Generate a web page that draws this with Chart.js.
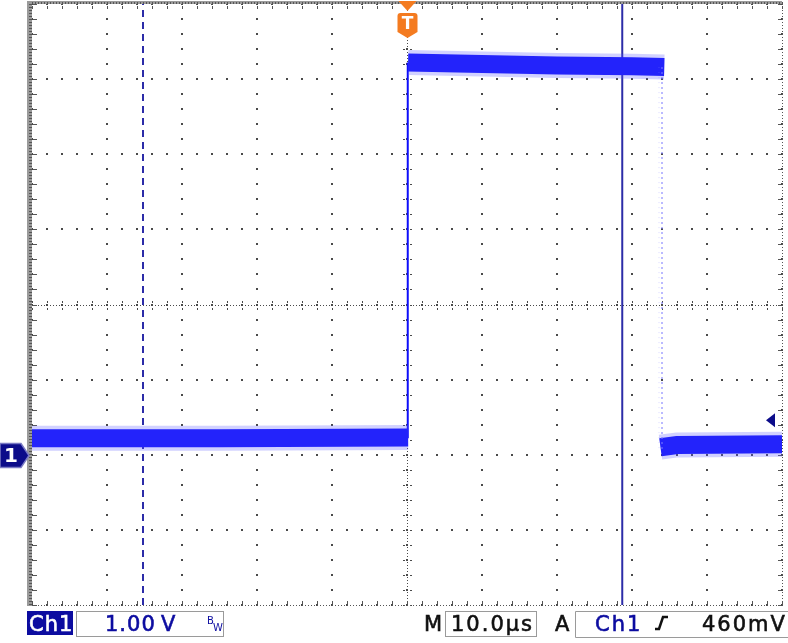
<!DOCTYPE html>
<html>
<head>
<meta charset="utf-8">
<script src="https://cdn.jsdelivr.net/npm/chart.js@4.4.0/dist/chart.umd.min.js"></script>
<style>
  html, body { margin: 0; padding: 0; background: #fff; }
  #wrap { width: 788px; height: 643px; position: relative; }
</style>
</head>
<body>
<div id="wrap"><canvas id="scope"></canvas></div>
<script>
// Scope screen: 10 us/div, 1 V/div, trigger at centre, ch1 ground 2 div below centre
const timeRange = [-50, 50];
const voltRange = [-2, 6];
const timeDivs = [-50, -40, -30, -20, -10, 0, 10, 20, 30, 40, 50];
const voltDivs = [-2, -1, 0, 1, 2, 3, 4, 5, 6];

// Ch1 trace, split at the edges
const preTime = [-50, -25, 0.15];
const preVolts = [0.22, 0.22, 0.23];
const highTime = [0.15, 10, 20, 30, 34.3];
const highVolts = [5.22, 5.2, 5.18, 5.17, 5.16];
const postTime = [33.8, 36, 50];
const postVolts = [0.1, 0.13, 0.14];
const riseTime = [0.1, 0.1];
const riseVolts = [0.22, 5.22];
const fallTime = [34.0, 34.0];
const fallVolts = [5.16, 0.06];

// Cursors and trigger
const cursorA = -35.2;
const cursorB = 28.7;
const cursorAVolts = 0.21;
const cursorBVolts = 5.13;
const triggerTime = 0;
const triggerLevel = 0.46;

const pts = (ts, vs) => ts.map((t, i) => ({ x: t, y: vs[i] }));

function line(data, color, width, extra) {
    return Object.assign({
        data: data,
        borderColor: color,
        borderWidth: width,
        pointRadius: 0,
        tension: 0,
        fill: false,
        borderCapStyle: 'butt'
    }, extra || {});
}

const fuzz = 'rgba(90, 90, 255, 0.28)';
const core = 'rgb(14, 14, 250)';
const navy = '#0c0c8a';

// Dotted graticule, rulers on the frame
const graticule = {
    id: 'graticule',
    beforeDatasetsDraw(chart) {
        const { ctx, chartArea: a, scales: { x, y } } = chart;
        ctx.save();
        ctx.fillStyle = '#4a4a4a';
        // dotted division lines
        timeDivs.forEach(t => {
            const px = Math.round(x.getPixelForValue(t));
            for (let k = 0; k <= 40; k++) {
                const py = Math.round(y.getPixelForValue(voltRange[0] + k * 0.2));
                ctx.fillRect(px - 1, py - 1, 2, 2);
            }
        });
        voltDivs.forEach(v => {
            const py = Math.round(y.getPixelForValue(v));
            for (let k = 0; k <= 50; k++) {
                const px = Math.round(x.getPixelForValue(timeRange[0] + k * 2));
                ctx.fillRect(px - 1, py - 1, 2, 2);
            }
        });
        // centre axes: dense dots plus small ticks
        const cx = Math.round(x.getPixelForValue(0));
        const cy = Math.round(y.getPixelForValue(2));
        for (let px = a.left; px <= a.right; px += 3) ctx.fillRect(px, cy, 1, 1);
        for (let py = a.top; py <= a.bottom; py += 3) ctx.fillRect(cx, py, 1, 1);
        for (let k = 0; k <= 50; k++) {
            const px = Math.round(x.getPixelForValue(timeRange[0] + k * 2));
            ctx.fillRect(px, cy - 4, 1, 2);
            ctx.fillRect(px, cy + 3, 1, 2);
        }
        for (let k = 0; k <= 40; k++) {
            const py = Math.round(y.getPixelForValue(voltRange[0] + k * 0.2));
            ctx.fillRect(cx - 4, py, 2, 1);
            ctx.fillRect(cx + 3, py, 2, 1);
        }
        // frame rulers
        ctx.fillStyle = '#9a9a9a';
        ctx.fillRect(a.left - 5, a.top - 3, 5, a.bottom - a.top + 4);
        ctx.fillRect(a.left - 5, a.top - 3, a.right - a.left + 5, 3);
        ctx.fillStyle = '#555';
        for (let py = a.top; py <= a.bottom; py += 3) ctx.fillRect(a.left - 3, py, 3, 1);
        for (let px = a.left; px <= a.right; px += 3) ctx.fillRect(px, a.top - 2, 1, 2);
        for (let px = a.left; px <= a.right; px += 3) ctx.fillRect(px, a.bottom, 1, 1);
        for (let py = a.top; py <= a.bottom; py += 3) ctx.fillRect(a.right, py, 1, 1);
        for (let k = 0; k <= 50; k++) {
            const px = Math.round(x.getPixelForValue(timeRange[0] + k * 2));
            ctx.fillRect(px, a.top + 2, 1, 3);
            ctx.fillRect(px, a.bottom - 4, 1, 3);
        }
        for (let k = 0; k <= 40; k++) {
            const py = Math.round(y.getPixelForValue(voltRange[0] + k * 0.2));
            ctx.fillRect(a.left + 1, py, 4, 1);
            ctx.fillRect(a.right - 4, py, 3, 1);
        }
        ctx.restore();
    }
};

// text a bit heavier and wider, like the scope's own font
function scopeText(ctx, s, x, y, color) {
    ctx.fillStyle = color;
    ctx.strokeStyle = color;
    ctx.lineWidth = 0.6;
    ctx.fillText(s, x, y);
    ctx.strokeText(s, x, y);
}

// Markers and readout bar
const readout = {
    id: 'readout',
    afterDraw(chart) {
        const { ctx, scales: { x, y } } = chart;
        ctx.save();

        // trigger position marker
        const tx = Math.round(x.getPixelForValue(triggerTime)) + 0.5;
        ctx.fillStyle = '#f47b20';
        ctx.beginPath();
        ctx.moveTo(tx - 9, 1); ctx.lineTo(tx + 9, 1); ctx.lineTo(tx, 11);
        ctx.closePath(); ctx.fill();
        ctx.beginPath();
        ctx.moveTo(tx - 10, 16);
        ctx.quadraticCurveTo(tx - 10, 13, tx - 7, 13);
        ctx.lineTo(tx + 7, 13);
        ctx.quadraticCurveTo(tx + 10, 13, tx + 10, 16);
        ctx.lineTo(tx + 10, 32); ctx.lineTo(tx, 38); ctx.lineTo(tx - 10, 32);
        ctx.closePath(); ctx.fill();
        ctx.fillStyle = '#fff';
        ctx.font = 'bold 17px "DejaVu Sans"';
        ctx.textAlign = 'center';
        ctx.textBaseline = 'middle';
        ctx.fillText('T', tx, 25);

        // ch1 ground marker
        const gy = Math.round(y.getPixelForValue(0)) + 0.5;
        ctx.beginPath();
        ctx.moveTo(0, gy - 12); ctx.lineTo(21, gy - 12); ctx.lineTo(29, gy);
        ctx.lineTo(21, gy + 12); ctx.lineTo(0, gy + 12);
        ctx.closePath();
        ctx.fillStyle = navy; ctx.fill();
        ctx.strokeStyle = '#7a7ac4'; ctx.lineWidth = 1.5; ctx.stroke();
        ctx.fillStyle = '#fff';
        ctx.font = 'bold 20px "DejaVu Sans"';
        ctx.fillText('1', 11, gy + 1);

        // trigger level marker
        const ly = y.getPixelForValue(triggerLevel);
        ctx.fillStyle = navy;
        ctx.beginPath();
        ctx.moveTo(766, ly); ctx.lineTo(775, ly - 7); ctx.lineTo(775, ly + 7);
        ctx.closePath(); ctx.fill();

        // readout bar
        ctx.textAlign = 'left';
        ctx.textBaseline = 'alphabetic';
        ctx.font = '21px "DejaVu Sans"';
        ctx.letterSpacing = '1px';
        const base = 631;
        const blue = '#0c0ca0';
        ctx.fillStyle = blue;
        ctx.fillRect(27, 611, 46, 24);
        scopeText(ctx, 'Ch1', 29, base, '#fff');
        ctx.strokeStyle = '#9a9a9a'; ctx.lineWidth = 1;
        ctx.strokeRect(76.5, 611.5, 147, 25);
        scopeText(ctx, '1.00', 105, base, blue);
        scopeText(ctx, 'V', 161, base, blue);
        ctx.letterSpacing = '0px';
        ctx.font = '10px "DejaVu Sans"';
        ctx.fillText('B', 207, 624);
        ctx.fillText('W', 213, 631);

        ctx.font = '21px "DejaVu Sans"';
        ctx.letterSpacing = '2px';
        scopeText(ctx, 'M', 424, base, '#111');
        ctx.strokeStyle = '#9a9a9a'; ctx.lineWidth = 1;
        ctx.strokeRect(445.5, 611.5, 91, 25);
        scopeText(ctx, '10.0\u00b5s', 451, base, '#111');
        scopeText(ctx, 'A', 555, base, '#111');
        ctx.strokeStyle = '#9a9a9a'; ctx.lineWidth = 1;
        ctx.beginPath();
        ctx.moveTo(790, 611.5); ctx.lineTo(575.5, 611.5); ctx.lineTo(575.5, 637.5); ctx.lineTo(790, 637.5);
        ctx.stroke();
        scopeText(ctx, 'Ch1', 595, base, blue);
        scopeText(ctx, '460mV', 702, base, '#111');
        ctx.strokeStyle = '#111'; ctx.lineWidth = 2.5;
        ctx.beginPath();
        ctx.moveTo(655, 629); ctx.lineTo(659, 629); ctx.lineTo(663, 617); ctx.lineTo(668, 617);
        ctx.stroke();
        ctx.restore();
    }
};

new Chart(document.getElementById('scope'), {
    type: 'line',
    data: {
        datasets: [
            line(pts(preTime, preVolts), fuzz, 25),
            line(pts(highTime, highVolts), fuzz, 25),
            line(pts(postTime, postVolts), fuzz, 25),
            line(pts(fallTime, fallVolts), 'rgba(130, 130, 255, 0.55)', 2, { borderDash: [2, 3] }),
            line(pts(fallTime.map(t => t - 0.4), fallVolts), 'rgba(150, 150, 255, 0.35)', 1, { borderDash: [1, 4] }),
            line(pts(preTime, preVolts), core, 18),
            line(pts(highTime, highVolts), core, 18),
            line(pts(postTime, postVolts), core, 18),
            line(pts(riseTime, riseVolts), core, 2),
            line(pts([cursorA, cursorA], voltRange), '#2c2ca8', 2, { borderDash: [7, 5] }),
            line(pts([cursorB, cursorB], voltRange), '#2c2ca8', 2),
            line(pts([cursorA - 1.5, cursorA + 1.5], [cursorAVolts, cursorAVolts]), '#1a1a60', 1),
            line(pts([cursorB - 1.4, cursorB + 1.4], [cursorBVolts, cursorBVolts]), '#1a1a60', 1)
        ]
    },
    options: {
        responsive: true,
        maintainAspectRatio: false,
        animation: false,
        events: [],
        layout: { padding: { left: 32, right: 6, top: 4, bottom: 38 } },
        plugins: { legend: { display: false }, tooltip: { enabled: false } },
        scales: {
            x: { type: 'linear', min: timeRange[0], max: timeRange[1], display: false },
            y: { type: 'linear', min: voltRange[0], max: voltRange[1], display: false }
        }
    },
    plugins: [graticule, readout]
});
</script>
</body>
</html>
